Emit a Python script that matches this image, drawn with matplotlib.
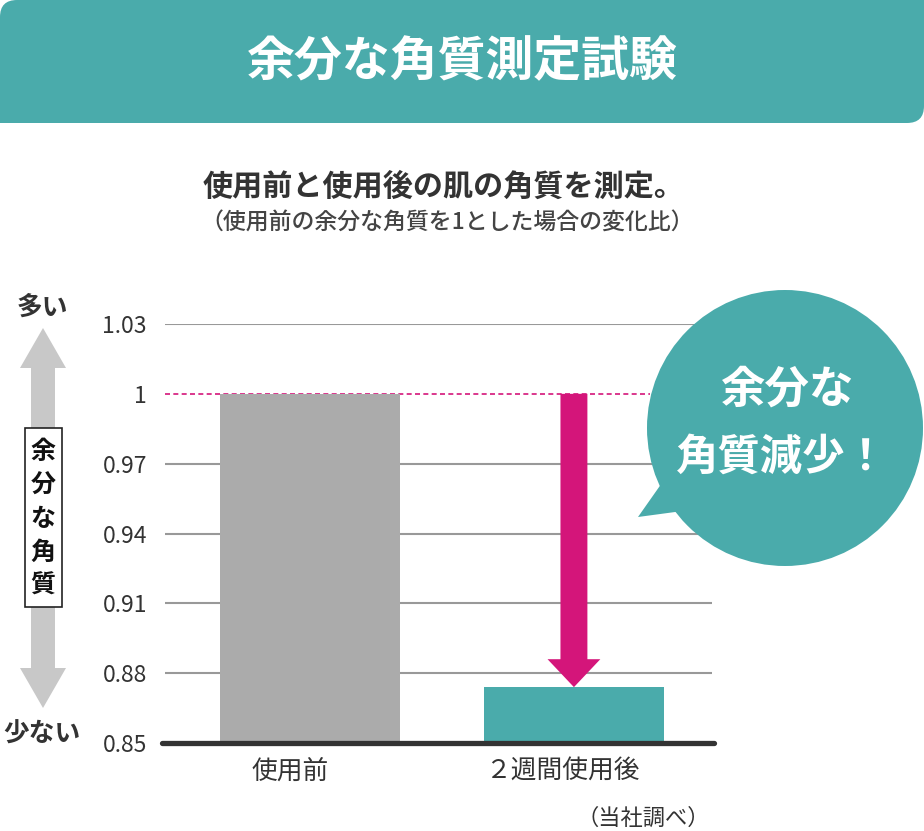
import matplotlib
matplotlib.use("Agg")
import matplotlib.pyplot as plt
from matplotlib.patches import FancyBboxPatch, Rectangle, Polygon, Circle, FancyArrow
from matplotlib.transforms import ScaledTranslation

plt.rcParams['font.family'] = ['Noto Sans CJK JP', 'DejaVu Sans']

# ---- data ----
categories = ["使用前", "２週間使用後"]
values = [1.0, 0.874]
yticks = [0.85, 0.88, 0.91, 0.94, 0.97, 1.0, 1.03]
ytick_labels = ["0.85", "0.88", "0.91", "0.94", "0.97", "1", "1.03"]
title = "余分な角質測定試験"
subtitle1 = "使用前と使用後の肌の角質を測定。"
subtitle2 = "（使用前の余分な角質を1とした場合の変化比）"
source = "（当社調べ）"
bubble_lines = ["余分な", "角質減少！"]

TEAL = "#4aabab"
GRAY_BAR = "#ababab"
MAGENTA = "#d4157a"
DARK = "#333333"

W, H = 924, 831
fig = plt.figure(figsize=(W / 100, H / 100), dpi=100)
fig.patch.set_facecolor("white")

# ---- chart axes ----
ax_l, ax_r, ax_t, ax_b = 165, 712, 324, 743
ax = fig.add_axes([ax_l / W, (H - ax_b) / H, (ax_r - ax_l) / W, (ax_b - ax_t) / H])
ax.set_xlim(-0.549, 1.523)
ax.set_ylim(0.85, 1.03)
for s in ax.spines.values():
    s.set_visible(False)
ax.set_facecolor("none")

for yv in yticks:
    if yv in (0.85, 1.0):
        continue
    ax.axhline(yv, color="#999999", lw=1.5, zorder=1)
ax.axhline(1.0, xmin=0, xmax=(650 - ax_l) / (ax_r - ax_l), color=MAGENTA, lw=1.2,
           ls=(0, (3, 2)), zorder=1)

xpos = list(range(len(categories)))
ax.bar(xpos, [v - 0.85 for v in values], bottom=0.85, width=0.682,
       color=[GRAY_BAR, TEAL], zorder=2)
ax.plot([-0.56, 1.53], [0.85, 0.85], color=DARK, lw=3.8, solid_capstyle="round",
        zorder=3, clip_on=False)

# magenta arrow from before to after value
head_len = 0.012
ax.add_patch(FancyArrow(xpos[1], values[0], 0, values[1] - values[0], width=0.102,
                        head_width=0.2, head_length=head_len,
                        length_includes_head=True, color=MAGENTA, zorder=4, lw=0))

ax.set_yticks(yticks)
ax.set_yticklabels(ytick_labels, fontsize=16.5, color=DARK)
ax.tick_params(axis="y", length=0, pad=13)
ax.set_xticks(xpos)
ax.set_xticklabels(categories, fontsize=18.5, color=DARK)
ax.tick_params(axis="x", length=0, pad=11)
for lab, dx in zip(ax.get_xticklabels(), [-20, -12]):
    lab.set_transform(lab.get_transform() + ScaledTranslation(dx / 100, 0, fig.dpi_scale_trans))

# ---- overlay axes in pixel coordinates ----
ov = fig.add_axes([0, 0, 1, 1], zorder=5)
ov.set_xlim(0, W)
ov.set_ylim(H, 0)
ov.axis("off")

# header band: rounded top-left and bottom-right
r = 17
ov.add_patch(FancyBboxPatch((0, 0), W, 123, boxstyle=f"round,pad=0,rounding_size={r}",
                            fc=TEAL, ec="none", mutation_aspect=1))
ov.add_patch(Rectangle((W - 40, 0), 40, 40, fc=TEAL, ec="none"))
ov.add_patch(Rectangle((0, 123 - 40), 40, 40, fc=TEAL, ec="none"))
ov.text(462, 62, title, color="white", fontsize=34.5, fontweight="bold",
        ha="center", va="center")

ov.text(444, 187, subtitle1, color=DARK, fontsize=21.7, fontweight="bold",
        ha="center", va="center")
ov.text(447, 223, subtitle2, color="#444444", fontsize=16.5, fontweight="medium",
        ha="center", va="center")

# speech bubble
ov.add_patch(Circle((785, 428), 138, fc=TEAL, ec="none"))
ov.add_patch(Polygon([(638, 517), (664, 480), (690, 510)], closed=True, fc=TEAL, ec="none"))
ov.text(788, 390, bubble_lines[0], color="white", fontsize=32, fontweight="bold",
        ha="center", va="center")
ov.text(782, 458, bubble_lines[1], color="white", fontsize=30.5, fontweight="bold",
        ha="center", va="center")

# left double arrow
gc = "#c8c8c8"
ov.add_patch(Polygon([(43, 328), (66, 368), (55, 368), (55, 668), (66, 668), (43, 708),
                      (20, 668), (31, 668), (31, 368), (20, 368)], closed=True,
                     fc=gc, ec="none"))
ov.add_patch(Rectangle((24.5, 428), 37, 179, fc="white", ec="#222222", lw=1.2))
for i, ch in enumerate("余分な角質"):
    ov.text(43, 452 + i * 33.5, ch, color="#111111", fontsize=18, fontweight="bold",
            ha="center", va="center")
ov.text(42, 307, "多い", color=DARK, fontsize=18.5, fontweight="bold",
        ha="center", va="center")
ov.text(42, 734, "少ない", color=DARK, fontsize=18.5, fontweight="bold",
        ha="center", va="center")

ov.text(710, 818, source, color=DARK, fontsize=16, ha="right", va="center")

fig.savefig("out.png", dpi=100, facecolor="white")
